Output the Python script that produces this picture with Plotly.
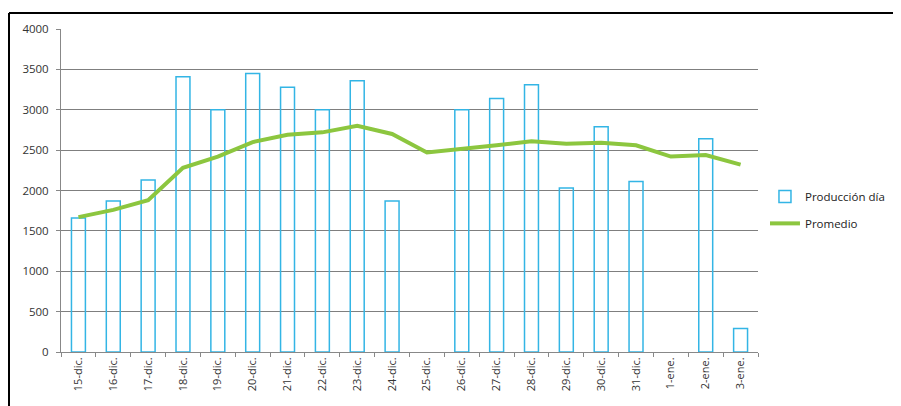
import plotly.graph_objects as go

categories = ["15-dic.", "16-dic.", "17-dic.", "18-dic.", "19-dic.", "20-dic.", "21-dic.",
              "22-dic.", "23-dic.", "24-dic.", "25-dic.", "26-dic.", "27-dic.", "28-dic.",
              "29-dic.", "30-dic.", "31-dic.", "1-ene.", "2-ene.", "3-ene."]
# None = no production that day
produccion = [1660, 1870, 2130, 3410, 3000, 3450, 3280, 3000, 3360, 1870, None,
              3000, 3140, 3310, 2030, 2790, 2110, None, 2640, 290]
promedio = [1670, 1760, 1880, 2280, 2420, 2600, 2690, 2720, 2800, 2700, 2470,
            2510, 2560, 2610, 2580, 2590, 2560, 2420, 2440, 2320]
y_ticks = [0, 500, 1000, 1500, 2000, 2500, 3000, 3500, 4000]

# page body has an 8px margin, so the figure is a bit smaller than the window
W, H = 893, 398
L, T = 53, 21
pw, ph = 697, 323
R, B = W - L - pw, H - T - ph

fig = go.Figure()
fig.add_trace(go.Bar(
    x=categories, y=produccion, name="Producción día", legendgroup="a",
    marker=dict(color="rgba(255,255,255,0)", line=dict(color="#33b5e5", width=1.5)),
    width=0.4,
))
fig.add_trace(go.Scatter(
    x=categories, y=promedio, name="Promedio", mode="lines", legendgroup="b",
    line=dict(color="#8cc63f", width=4),
))

# outer frame (top and left edges visible)
fx0 = (1 - L) / pw
fy1 = (ph + T - 5) / ph
fig.add_shape(type="line", xref="paper", yref="paper", x0=fx0, x1=(W + 5 - L) / pw,
              y0=fy1, y1=fy1, line=dict(color="black", width=2))
fig.add_shape(type="line", xref="paper", yref="paper", x0=fx0, x1=fx0,
              y0=fy1, y1=-0.3, line=dict(color="black", width=2))

fig.update_layout(
    width=W, height=H,
    margin=dict(l=L, r=R, t=T, b=B, autoexpand=False),
    paper_bgcolor="white", plot_bgcolor="white",
    font=dict(family="Open Sans, Liberation Sans, sans-serif", size=10, color="#333"),
    bargap=0.6,
    showlegend=True,
    legend=dict(x=1.01, y=0.44, xanchor="left", yanchor="middle",
                font=dict(size=11.5, color="#222"), tracegroupgap=8,
                bgcolor="rgba(0,0,0,0)"),
    xaxis=dict(showgrid=False, tickangle=-90, ticks="outside", ticklen=4,
               tickcolor="#888", showline=True, linecolor="#888", linewidth=1,
               tickson="boundaries", tickfont=dict(size=11)),
    yaxis=dict(range=[0, 4000], tickvals=y_ticks, showgrid=True, gridcolor="#7f7f7f",
               gridwidth=1, ticks="outside", ticklen=4, tickcolor="#888",
               showline=True, linecolor="#888", zeroline=False, tickfont=dict(size=11.5),
               ticklabelstandoff=5),
)

fig.write_html("out.html")
